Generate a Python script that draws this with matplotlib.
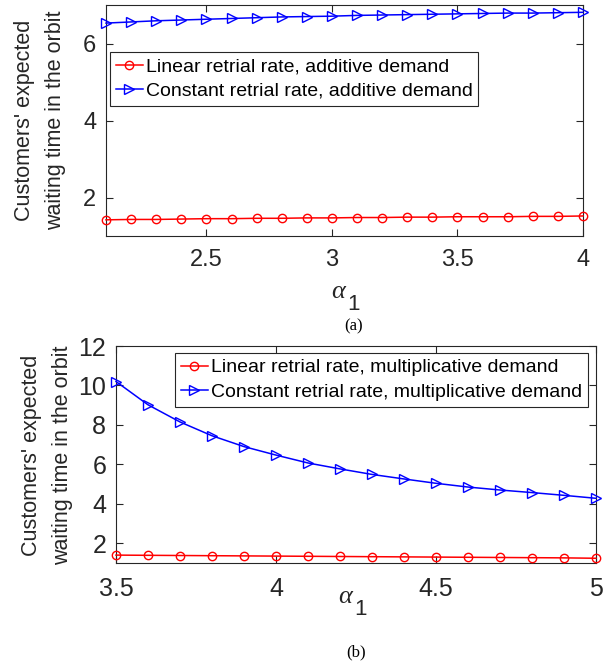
import numpy as np
import matplotlib
matplotlib.use("Agg")
import matplotlib.pyplot as plt

# ---- data ----
alpha_a = [2.1, 2.2, 2.3, 2.4, 2.5, 2.6, 2.7, 2.8, 2.9, 3.0,
           3.1, 3.2, 3.3, 3.4, 3.5, 3.6, 3.7, 3.8, 3.9, 4.0]
linear_additive = [1.42, 1.43, 1.43, 1.44, 1.45, 1.45, 1.46, 1.46, 1.47, 1.47,
                   1.48, 1.48, 1.49, 1.49, 1.50, 1.50, 1.50, 1.51, 1.51, 1.52]
constant_additive = [6.53, 6.56, 6.59, 6.61, 6.63, 6.65, 6.67, 6.69, 6.70, 6.71,
                     6.73, 6.74, 6.75, 6.76, 6.77, 6.78, 6.79, 6.79, 6.80, 6.81]

alpha_b = [3.5, 3.6, 3.7, 3.8, 3.9, 4.0, 4.1, 4.2, 4.3, 4.4, 4.5, 4.6, 4.7, 4.8, 4.9, 5.0]
linear_multiplicative = [1.40, 1.39, 1.38, 1.37, 1.36, 1.35, 1.34, 1.33,
                         1.32, 1.31, 1.30, 1.29, 1.28, 1.27, 1.26, 1.24]
constant_multiplicative = [10.20, 9.02, 8.15, 7.45, 6.90, 6.47, 6.07, 5.77,
                           5.49, 5.26, 5.04, 4.85, 4.70, 4.57, 4.43, 4.28]

labels_a = ["Linear retrial rate, additive demand",
            "Constant retrial rate, additive demand"]
labels_b = ["Linear retrial rate, multiplicative demand",
            "Constant retrial rate, multiplicative demand"]
ylabel = "Customers' expected\nwaiting time in the orbit"

xticks_a = [2.5, 3, 3.5, 4]
yticks_a = [2, 4, 6]
xticks_b = [3.5, 4, 4.5, 5]
yticks_b = [2, 4, 6, 8, 10, 12]

# ---- figure ----
W, H = 613, 665
fig = plt.figure(figsize=(W / 100, H / 100), dpi=100)
plt.rcParams["font.family"] = ["Liberation Sans", "DejaVu Sans"]
axis_grey = (0.15, 0.15, 0.15)


def px_axes(left, top, right, bottom):
    return fig.add_axes([left / W, (H - bottom) / H, (right - left) / W, (bottom - top) / H])


def style(ax, xticks, yticks, xlim, ylim, fs, xpad):
    ax.set_xlim(*xlim)
    ax.set_ylim(*ylim)
    ax.set_xticks(xticks)
    ax.set_yticks(yticks)
    ax.set_xticklabels([f"{t:g}" for t in xticks])
    ax.set_yticklabels([f"{t:g}" for t in yticks])
    ax.tick_params(direction="in", length=5, width=0.8, colors=axis_grey,
                   labelsize=fs, top=True, right=True)
    ax.tick_params(axis="x", pad=xpad)
    ax.tick_params(axis="y", pad=7)
    for s in ax.spines.values():
        s.set_color(axis_grey)
        s.set_linewidth(0.8)


def draw(ax, x, lin, con, labels):
    ax.plot(x, lin, color="red", lw=1.1, marker="o", ms=6, mfc="none", mew=1.0,
            label=labels[0], clip_on=False, zorder=3)
    ax.plot(x, con, color="blue", lw=1.1, marker=">", ms=7, mfc="none", mew=1.0,
            label=labels[1], clip_on=False, zorder=3)


legend_kw = dict(fontsize=14, fancybox=False, framealpha=1, edgecolor=axis_grey,
                 handlelength=1.4, handletextpad=0.15, borderpad=0.3,
                 labelspacing=0.35, borderaxespad=0, numpoints=1)

# (a)
ax1 = px_axes(106, 5, 583, 236)
draw(ax1, alpha_a, linear_additive, constant_additive, labels_a)
style(ax1, xticks_a, yticks_a, (2.1, 4), (1, 7), 17, 9)
leg1 = ax1.legend(loc="upper left", bbox_to_anchor=(0.008, 0.797), **legend_kw)
leg1.get_frame().set_linewidth(0.8)

# (b)
ax2 = px_axes(116, 346, 596, 563)
draw(ax2, alpha_b, linear_multiplicative, constant_multiplicative, labels_b)
style(ax2, xticks_b, yticks_b, (3.5, 5), (1, 12), 18, 10)
leg2 = ax2.legend(loc="upper right", bbox_to_anchor=(0.983, 0.968), **legend_kw)
leg2.get_frame().set_linewidth(0.8)

# y labels
for cx, cy in [(40, 120), (47, 455)]:
    fig.text(cx / W, 1 - cy / H, ylabel, rotation=90, ha="center", va="center",
             multialignment="center", fontsize=15.5, color=axis_grey, linespacing=1.6)

# x labels: italic alpha with upright subscript 1
for ax_x, ay in [(345, 298), (352, 603)]:
    fig.text(ax_x / W, 1 - ay / H, "\u03b1", fontsize=19, ha="right", va="baseline",
             family=["Liberation Serif", "DejaVu Serif"], style="italic", color=axis_grey)
    fig.text((ax_x + 2) / W, 1 - (ay + 12) / H, "1", fontsize=16, ha="left",
             va="baseline", color=axis_grey)

# captions
for cx, cy, t in [(354, 330, "(a)"), (356, 656, "(b)")]:
    fig.text(cx / W, 1 - cy / H, t, fontsize=12, ha="center", va="baseline",
             family=["Liberation Serif", "DejaVu Serif"], color="black")

fig.savefig("out.png", dpi=100)
